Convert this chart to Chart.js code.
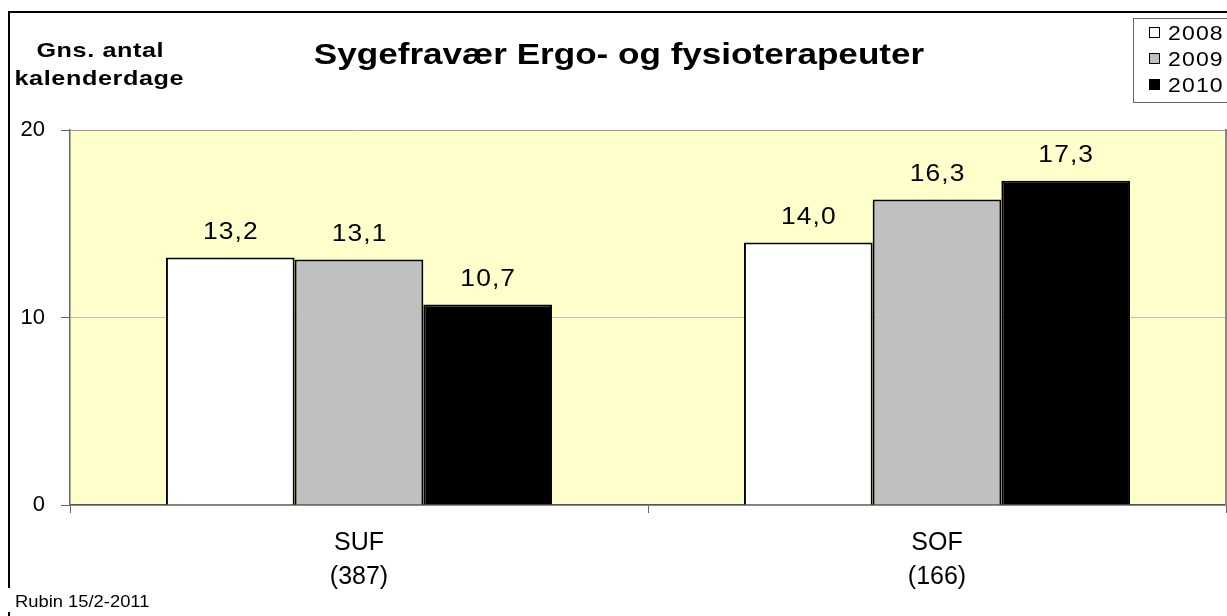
<!DOCTYPE html>
<html><head><meta charset="utf-8">
<script src="https://cdn.jsdelivr.net/npm/chart.js@4.4.1/dist/chart.umd.min.js"></script>
<style>html,body{margin:0;padding:0;background:#fff;overflow:hidden}canvas{display:block}</style>
</head><body>
<canvas id="c" width="1227" height="616"></canvas>
<script>
const categories = [['SUF', '(387)'], ['SOF', '(166)']];
const seriesLabels = ['2008', '2009', '2010'];
const values2008 = [13.2, 14.0];
const values2009 = [13.1, 16.3];
const values2010 = [10.7, 17.3];
const seriesColors = ['#ffffff', '#c0c0c0', '#000000'];
const yMin = 0, yMax = 20, yStep = 10;
const titleText = 'Sygefravær Ergo- og fysioterapeuter';
const yTitleLines = ['Gns. antal', 'kalenderdage'];
const footnote = 'Rubin 15/2-2011';

const FF = "'Liberation Sans', Arial, sans-serif";

// draw text with horizontal stretch (sx) and letter spacing
function wideText(ctx, text, x, y, align, sx, spacing) {
  ctx.save();
  ctx.letterSpacing = spacing + 'px';
  const w = (ctx.measureText(text).width - spacing) * sx;
  let left = x;
  if (align === 'center') left = x - w / 2;
  else if (align === 'right') left = x - w;
  ctx.translate(left, y);
  ctx.scale(sx, 1);
  ctx.textAlign = 'left';
  ctx.fillText(text, 0, 0);
  ctx.restore();
}

const decor = {
  id: 'decor',
  beforeDraw(chart) {
    const {ctx, chartArea: a} = chart;
    ctx.save();
    ctx.fillStyle = '#ffffff';
    ctx.fillRect(0, 0, chart.width, chart.height);
    ctx.fillStyle = '#ffffcc';
    ctx.fillRect(a.left, a.top, a.right - a.left, a.bottom - a.top);
    ctx.restore();
  },
  afterDatasetsDraw(chart) {
    const ctx = chart.ctx;
    ctx.save();
    ctx.fillStyle = '#000';
    ctx.font = '24px ' + FF;
    ctx.textBaseline = 'alphabetic';
    chart.data.datasets.forEach((ds, di) => {
      const meta = chart.getDatasetMeta(di);
      meta.data.forEach((bar, i) => {
        const v = ds.data[i];
        const t = v.toFixed(1).replace('.', ',');
        wideText(ctx, t, bar.x, bar.y - 18.5, 'center', 1.1, 1);
      });
    });
    ctx.restore();
    ctx.letterSpacing = '3px';
  },
  afterDraw(chart) {
    const {ctx, chartArea: a} = chart;
    ctx.letterSpacing = '0px';
    ctx.save();
    ctx.strokeStyle = '#888';
    ctx.lineWidth = 2;
    ctx.beginPath();
    ctx.moveTo(a.right, a.top - 1);
    ctx.lineTo(a.right, a.bottom);
    ctx.stroke();
    ctx.strokeStyle = '#000';
    ctx.lineWidth = 2;
    ctx.beginPath();
    ctx.moveTo(8, 12); ctx.lineTo(1227, 12);
    ctx.moveTo(9, 11); ctx.lineTo(9, 588);
    ctx.moveTo(9, 612); ctx.lineTo(9, 616);
    ctx.stroke();
    ctx.fillStyle = '#000';
    ctx.textBaseline = 'alphabetic';
    ctx.font = 'bold 29px ' + FF;
    wideText(ctx, titleText, 619, 64, 'center', 1.21, 0);
    ctx.font = 'bold 21px ' + FF;
    wideText(ctx, yTitleLines[0], 100, 57, 'center', 1.2, 0.5);
    wideText(ctx, yTitleLines[1], 99, 85, 'center', 1.2, 0.5);
    ctx.font = '17px ' + FF;
    wideText(ctx, footnote, 15, 607, 'left', 1.08, 0);
    ctx.fillStyle = '#fff';
    ctx.fillRect(1133, 18, 100, 84);
    ctx.strokeStyle = '#666';
    ctx.lineWidth = 1;
    ctx.strokeRect(1133.5, 18.5, 100, 84);
    ctx.font = '20px ' + FF;
    chart.data.datasets.forEach((ds, i) => {
      const cy = 33 + i * 26;
      ctx.fillStyle = ds.backgroundColor;
      ctx.fillRect(1149, cy - 6, 11, 11);
      ctx.strokeStyle = '#000';
      ctx.strokeRect(1149.5, cy - 5.5, 10, 10);
      ctx.fillStyle = '#000';
      wideText(ctx, ds.label, 1168, cy + 7, 'left', 1.15, 1);
    });
    ctx.restore();
  }
};

const datasetValues = [values2008, values2009, values2010];
new Chart(document.getElementById('c'), {
  type: 'bar',
  data: {
    labels: categories,
    datasets: seriesLabels.map((lab, i) => ({
      label: lab,
      data: datasetValues[i],
      backgroundColor: seriesColors[i],
      borderColor: '#000',
      borderWidth: 2,
      categoryPercentage: 0.668,
      barPercentage: 1.0
    }))
  },
  options: {
    responsive: false,
    animation: false,
    devicePixelRatio: 1,
    layout: {padding: {top: 130, right: 1, left: 0, bottom: 0}},
    plugins: {legend: {display: false}, title: {display: false}, tooltip: {enabled: false}},
    scales: {
      x: {
        z: 1,
        afterFit(s) { s.height = 111; },
        grid: {offset: true, drawOnChartArea: false, tickLength: 8, tickColor: '#666', lineWidth: 1},
        border: {color: '#555', width: 1.5},
        ticks: {color: '#000', font: {family: FF, size: 25, lineHeight: '34px'}, padding: 13, maxRotation: 0}
      },
      y: {
        min: yMin, max: yMax,
        afterFit(s) { s.width = 70; },
        ticks: {stepSize: yStep, color: '#000', font: {family: FF, size: 22}, padding: 16},
        grid: {
          color: (c) => c.tick && c.tick.value === yMax ? '#999' : '#c0c0c0',
          tickColor: '#666', tickLength: 9, lineWidth: 1
        },
        border: {color: '#666', width: 1.5}
      }
    }
  },
  plugins: [decor]
});
</script>
</body></html>
